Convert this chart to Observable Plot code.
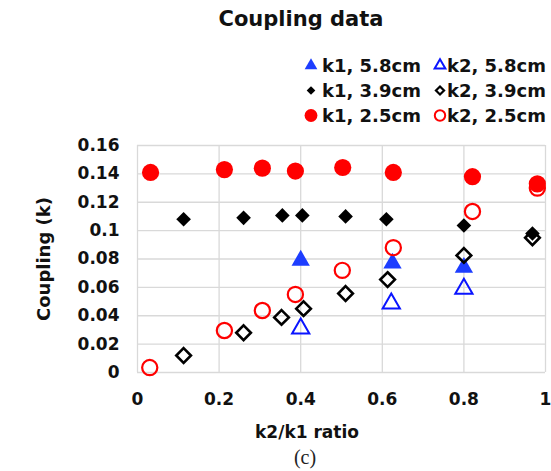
<!DOCTYPE html>
<html>
<head>
<meta charset="utf-8">
<script src="https://cdn.jsdelivr.net/npm/d3@7"></script>
<script src="https://cdn.jsdelivr.net/npm/@observablehq/plot@0.6"></script>
<style>
  html, body { margin: 0; padding: 0; background: #fff; }
  #wrap { position: relative; width: 551px; height: 471px; overflow: hidden; }
  #wrap > svg { position: absolute; left: 0; top: 0; }
</style>
</head>
<body>
<div id="wrap"></div>
<script>
// ---- data ----
const k1_58_x = [0.400, 0.625, 0.800];
const k1_58_y = [0.079, 0.077, 0.074];
const k2_58_x = [0.400, 0.622, 0.800];
const k2_58_y = [0.031, 0.0486, 0.059];
const k1_39_x = [0.113, 0.260, 0.355, 0.404, 0.510, 0.610, 0.800, 0.968];
const k1_39_y = [0.108, 0.109, 0.1107, 0.1107, 0.110, 0.108, 0.1036, 0.098];
const k2_39_x = [0.113, 0.260, 0.353, 0.407, 0.510, 0.613, 0.800, 0.968];
const k2_39_y = [0.012, 0.028, 0.0388, 0.045, 0.0557, 0.0655, 0.0825, 0.095];
const k1_25_x = [0.032, 0.213, 0.306, 0.387, 0.503, 0.627, 0.821, 0.980];
const k1_25_y = [0.141, 0.143, 0.144, 0.142, 0.1445, 0.141, 0.138, 0.133];
const k2_25_x = [0.030, 0.213, 0.306, 0.387, 0.502, 0.627, 0.821, 0.980];
const k2_25_y = [0.0035, 0.0296, 0.0437, 0.055, 0.072, 0.088, 0.1135, 0.130];

const xTicks = [0, 0.2, 0.4, 0.6, 0.8, 1];
const yTicks = [0, 0.02, 0.04, 0.06, 0.08, 0.1, 0.12, 0.14, 0.16];
const seriesNames = ["k1, 5.8cm", "k2, 5.8cm", "k1, 3.9cm", "k2, 3.9cm", "k1, 2.5cm", "k2, 2.5cm"];
const titleText = "Coupling data";
const xLabel = "k2/k1 ratio";
const yLabel = "Coupling (k)";
const captionText = "(c)";

const pts = (xs, ys) => xs.map((x, i) => ({x, y: ys[i]}));

const BLUE = "#1d3dff", BLUE2 = "#0a14ff", RED = "#ff0000", BLACK = "#000000";
const FONT = "DejaVu Sans";
const grid = "#d9d9d9";

const chart = Plot.plot({
  width: 551,
  height: 471,
  marginTop: 145,
  marginBottom: 99,
  marginLeft: 137,
  marginRight: 6,
  style: {fontFamily: FONT, background: "transparent", color: "#111"},
  x: {domain: [0, 1]},
  y: {domain: [0, 0.16]},
  marks: [
    Plot.gridX(xTicks, {stroke: grid, strokeOpacity: 1, strokeWidth: 1.3}),
    Plot.gridY(yTicks, {stroke: grid, strokeOpacity: 1, strokeWidth: 1.3}),
    Plot.axisX(xTicks, {tickSize: 0, tickPadding: 20, label: null, fontSize: 17, fontWeight: "bold",
      tickFormat: d => String(+d.toFixed(2))}),
    Plot.axisY(yTicks, {tickSize: 0, tickPadding: 18, label: null, fontSize: 17, fontWeight: "bold",
      tickFormat: d => String(+d.toFixed(2))}),
    Plot.dot(pts(k1_58_x, k1_58_y), {x: "x", y: "y", symbol: "triangle", r: 6.8, fill: BLUE, stroke: "none"}),
    Plot.dot(pts(k2_58_x, k2_58_y), {x: "x", y: "y", symbol: "triangle", r: 6.4, fill: "none", stroke: BLUE2, strokeWidth: 2}),
    Plot.dot(pts(k1_39_x, k1_39_y), {x: "x", y: "y", symbol: "diamond2", r: 6.6, fill: BLACK, stroke: "none"}),
    Plot.dot(pts(k2_39_x, k2_39_y), {x: "x", y: "y", symbol: "diamond2", r: 6.6, fill: "none", stroke: BLACK, strokeWidth: 2.6}),
    Plot.dot(pts(k1_25_x, k1_25_y), {x: "x", y: "y", symbol: "circle", r: 8.6, fill: RED, stroke: "none"}),
    Plot.dot(pts(k2_25_x, k2_25_y), {x: "x", y: "y", symbol: "circle", r: 7.6, fill: "none", stroke: RED, strokeWidth: 2.2})
  ]
});

const wrap = document.getElementById("wrap");
wrap.appendChild(chart);

// ---- overlay: title, legend, axis labels, caption ----
const ov = d3.select(wrap).append("svg")
  .attr("width", 551).attr("height", 471)
  .style("font-family", FONT).style("font-weight", "bold").attr("fill", "#111");

ov.append("text").attr("x", 301).attr("y", 26).attr("text-anchor", "middle")
  .style("font-size", "21px").text(titleText);

const legendSpec = [
  {name: seriesNames[0], type: d3.symbolTriangle, size: 70, fill: BLUE, stroke: "none", sw: 0},
  {name: seriesNames[1], type: d3.symbolTriangle, size: 50, fill: "none", stroke: BLUE2, sw: 2},
  {name: seriesNames[2], type: d3.symbolDiamond2, size: 48, fill: BLACK, stroke: "none", sw: 0},
  {name: seriesNames[3], type: d3.symbolDiamond2, size: 42, fill: "none", stroke: BLACK, sw: 2.2},
  {name: seriesNames[4], type: d3.symbolCircle, size: 130, fill: RED, stroke: "none", sw: 0},
  {name: seriesNames[5], type: d3.symbolCircle, size: 85, fill: "none", stroke: RED, sw: 2}
];
const colSym = [311, 440], colTxt = [322, 447], rowBase = [72, 97, 122];
legendSpec.forEach((s, i) => {
  const c = i % 2, r = Math.floor(i / 2);
  ov.append("path")
    .attr("d", d3.symbol(s.type, s.size)())
    .attr("transform", `translate(${colSym[c]},${rowBase[r] - 6.5})`)
    .attr("fill", s.fill).attr("stroke", s.stroke).attr("stroke-width", s.sw);
  ov.append("text").attr("x", colTxt[c]).attr("y", rowBase[r])
    .style("font-size", "18px").text(s.name);
});

ov.append("text").attr("x", 307).attr("y", 438).attr("text-anchor", "middle")
  .style("font-size", "17px").text(xLabel);

ov.append("text").attr("transform", "translate(50,259) rotate(-90)").attr("text-anchor", "middle")
  .style("font-size", "18px").text(yLabel);

ov.append("text").attr("x", 305).attr("y", 464).attr("text-anchor", "middle")
  .style("font-family", "Liberation Serif").style("font-weight", "normal").style("font-size", "20px")
  .attr("fill", "#222").text(captionText);
</script>
</body>
</html>
